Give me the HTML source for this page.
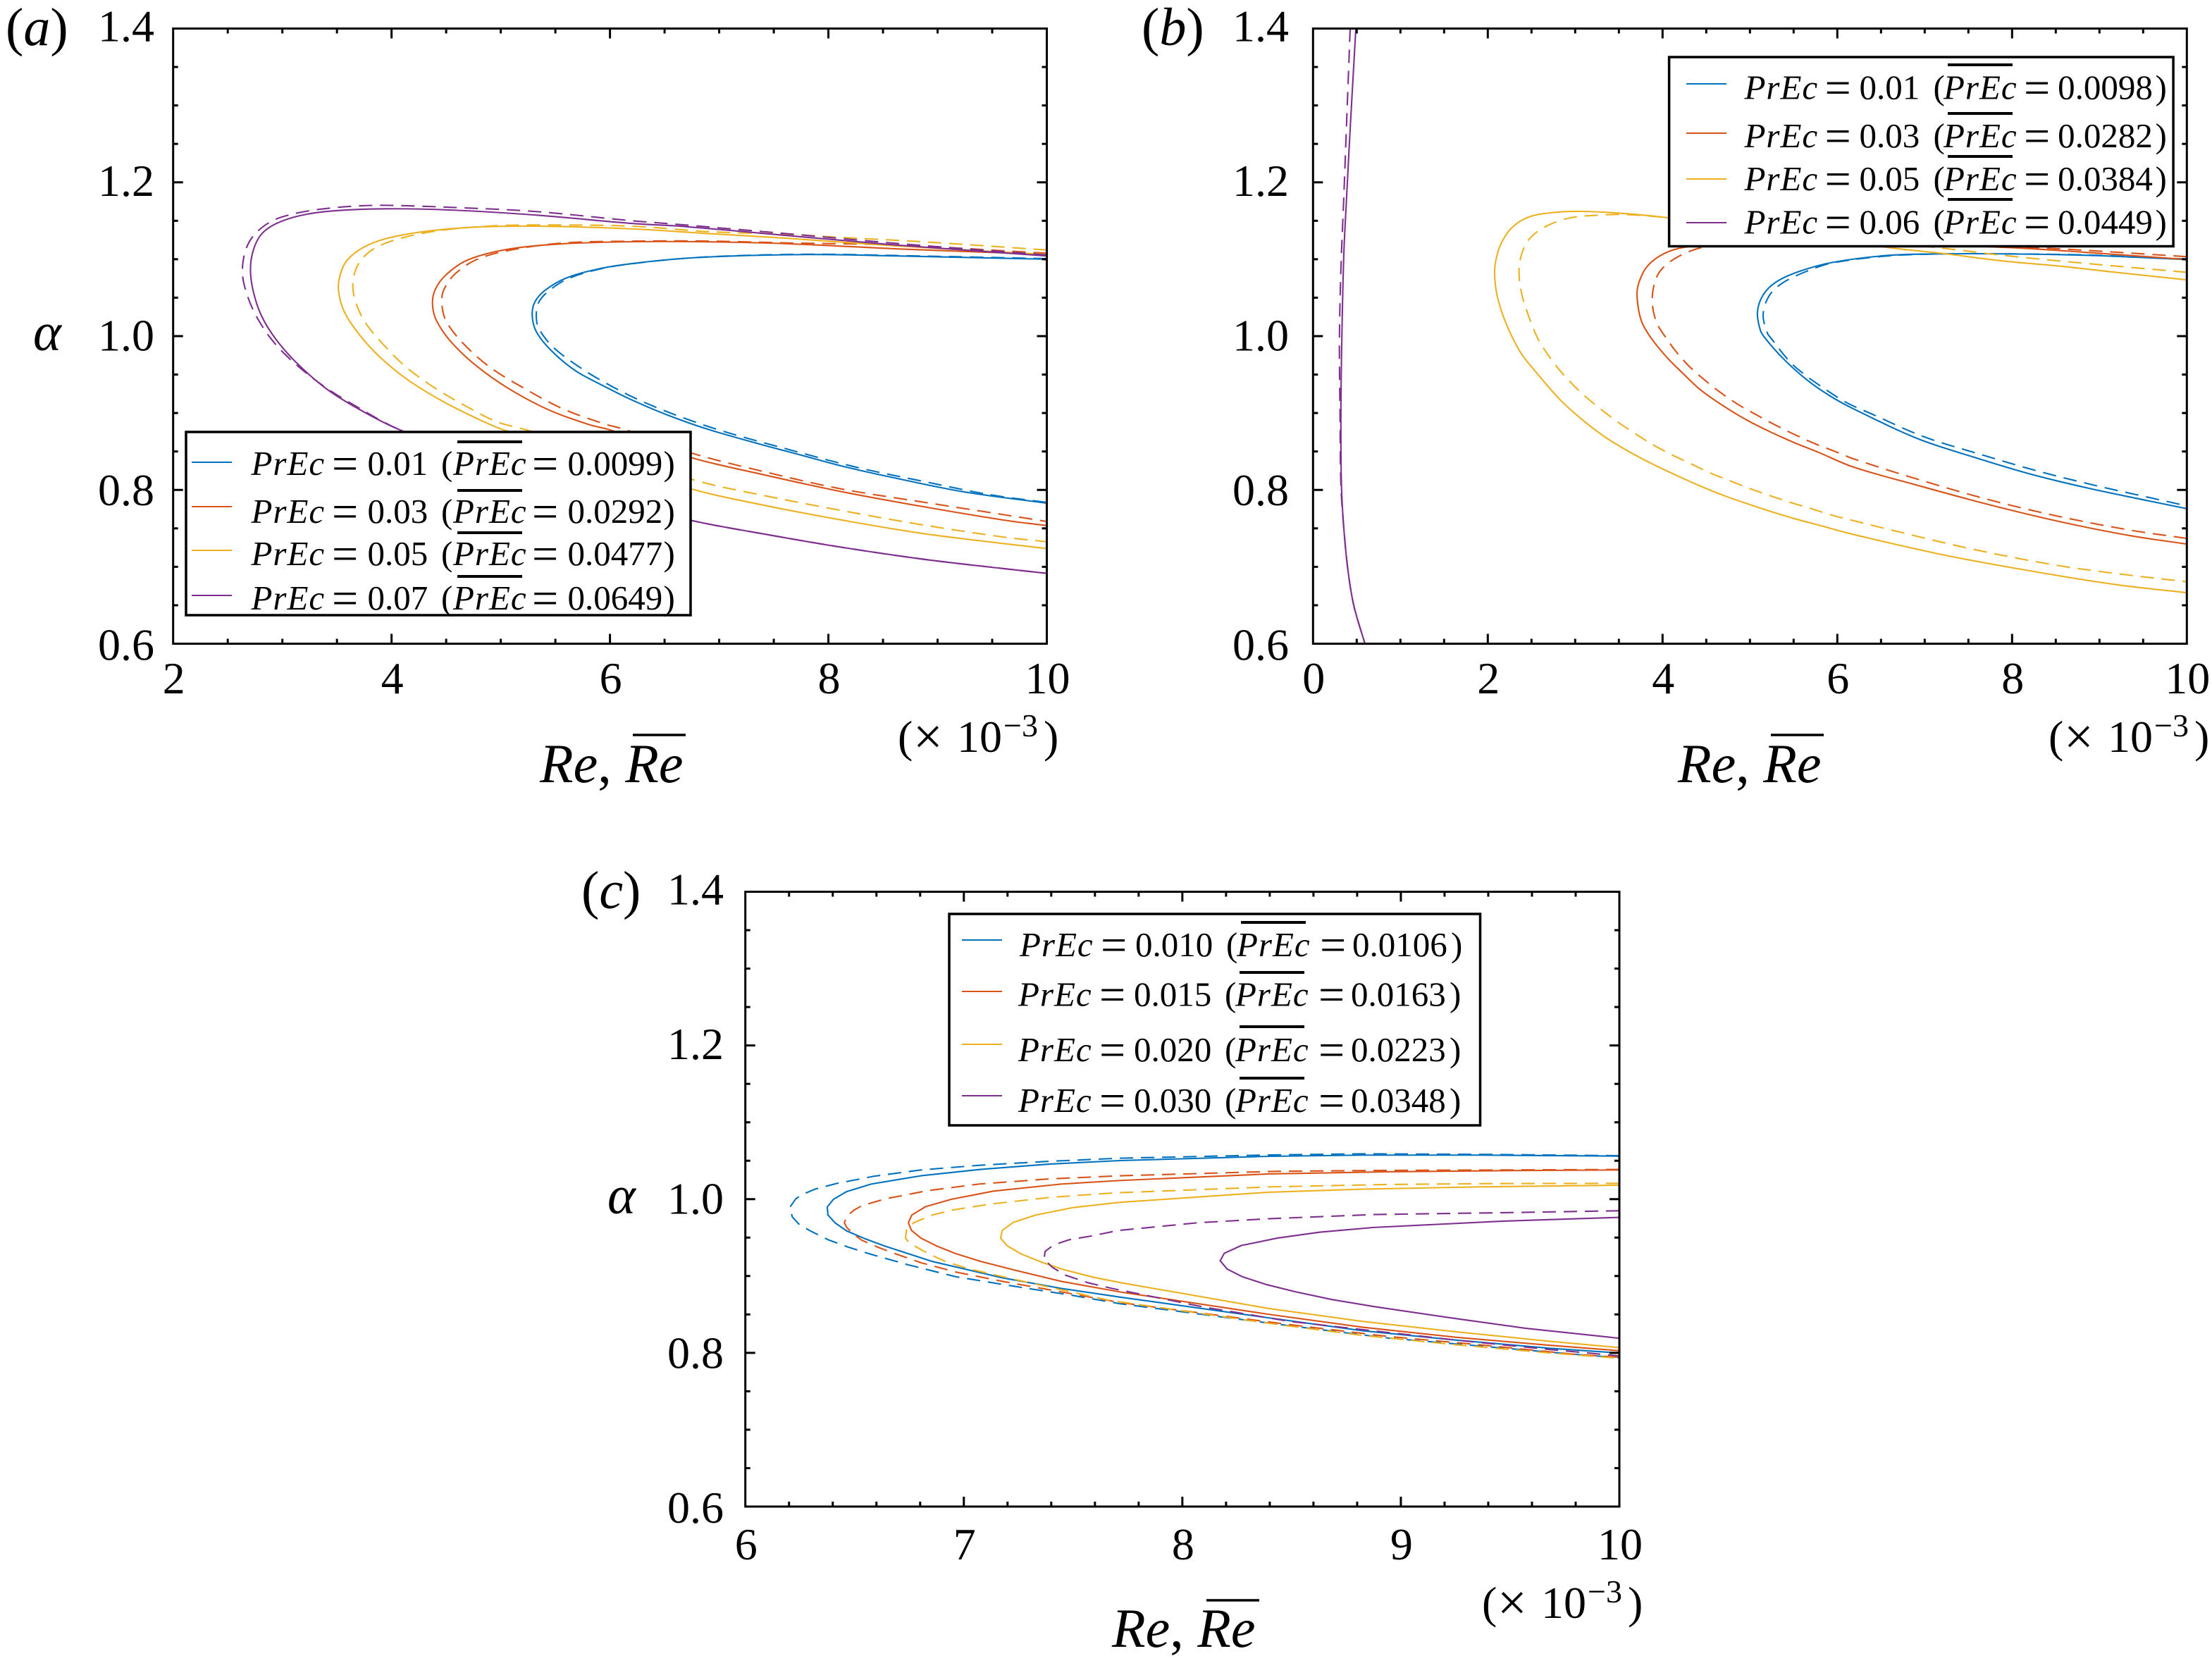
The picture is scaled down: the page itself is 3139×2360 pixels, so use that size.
<!DOCTYPE html>
<html lang="en">
<head>
<meta charset="utf-8">
<title>Neutral curves, panels a-c</title>
<style>
html,body{margin:0;padding:0;background:#fff;width:3139px;height:2360px;overflow:hidden}
svg{display:block}
text{font-family:"Liberation Serif",serif;fill:#000}
</style>
</head>
<body>
<svg id="fig" xmlns="http://www.w3.org/2000/svg" width="3139" height="2360" viewBox="0 0 3139 2360">
  <rect width="3139" height="2360" fill="#fff"/>
  <g id="panel-a"></g>
  <g id="panel-b"></g>
  <g id="panel-c"></g>
</svg>
<script>
// ---------- Data: each pair is [Re x 10^-3, alpha] ----------
const aBlueSolid=[[10,1.1],[8.626,1.1043],[7.885,1.1061],[7.145,1.1043],[6.651,1.1008],[6.222,1.0947],[5.93,1.0884],[5.609,1.0761],[5.412,1.0603],[5.313,1.0446],[5.288,1.027],[5.325,1.006],[5.461,0.9814],[5.683,0.9551],[5.93,0.936],[6.2,0.917],[6.527,0.8974],[6.898,0.8788],[7.392,0.8588],[7.762,0.8448],[8.132,0.8307],[8.626,0.815],[9.243,0.7974],[10,0.7827]];
const aBlueDash=[[10,1.1008],[8.626,1.1048],[7.885,1.1065],[7.145,1.1046],[6.651,1.1008],[6.222,1.0945],[5.93,1.088],[5.63,1.0755],[5.45,1.06],[5.35,1.0446],[5.325,1.027],[5.35,1.0095],[5.486,0.9849],[5.733,0.9585],[5.98,0.9375],[6.25,0.918],[6.6,0.8975],[7.021,0.877],[7.638,0.8525],[8.256,0.8295],[8.873,0.811],[9.491,0.7935],[10,0.7838]];
const aRedSolid=[[10,1.1061],[8.626,1.1135],[7.638,1.1201],[6.898,1.1226],[6.222,1.1228],[5.56,1.12],[5.066,1.113],[4.696,1.099],[4.498,1.0796],[4.399,1.0603],[4.375,1.0411],[4.412,1.02],[4.548,0.992],[4.77,0.9621],[5.066,0.9323],[5.436,0.9043],[5.807,0.885],[6.004,0.8779],[6.737,0.8423],[7.392,0.8202],[8.132,0.7974],[8.873,0.7781],[9.614,0.7606],[10,0.7536]];
const aRedDash=[[10,1.1078],[8.626,1.1184],[7.638,1.1212],[6.898,1.1236],[6.222,1.1235],[5.56,1.121],[5.066,1.1112],[4.77,1.099],[4.572,1.0796],[4.474,1.0586],[4.461,1.0411],[4.498,1.02],[4.646,0.992],[4.893,0.9604],[5.19,0.9341],[5.56,0.906],[5.93,0.8867],[6.152,0.8779],[6.737,0.8483],[7.441,0.8227],[8.132,0.8009],[8.873,0.784],[9.614,0.7676],[10,0.7589]];
const aYellowSolid=[[10,1.1061],[8.626,1.1173],[7.638,1.1271],[6.898,1.1334],[6.222,1.1393],[5.436,1.1428],[4.819,1.1421],[4.325,1.1365],[3.955,1.127],[3.733,1.1147],[3.585,1.0972],[3.523,1.0761],[3.515,1.0586],[3.56,1.034],[3.683,1.006],[3.881,0.9744],[4.152,0.9428],[4.474,0.9148],[4.77,0.8937],[5.029,0.8779],[5.9,0.841],[6.737,0.8016],[7.392,0.7806],[8.132,0.7606],[8.873,0.7431],[9.614,0.7301],[10,0.7238]];
const aYellowDash=[[10,1.112],[8.873,1.1226],[8.132,1.1282],[7.638,1.1324],[6.898,1.1359],[6.2,1.143],[5.436,1.1445],[4.943,1.1435],[4.449,1.1375],[4.078,1.127],[3.831,1.113],[3.696,1.0937],[3.646,1.0691],[3.671,1.0446],[3.757,1.0183],[3.906,0.992],[4.128,0.9604],[4.399,0.9323],[4.696,0.9078],[4.967,0.8885],[5.239,0.8779],[6.804,0.8115],[7.392,0.7932],[8.132,0.7729],[8.873,0.7543],[9.614,0.7385],[10,0.7326]];
const aPurpleSolid=[[10,1.1043],[8.626,1.1184],[7.638,1.1306],[6.65,1.1429],[6.222,1.1463],[5.313,1.1575],[4.572,1.1638],[3.955,1.1656],[3.461,1.1628],[3.165,1.1568],[2.943,1.1463],[2.807,1.1323],[2.733,1.1112],[2.708,1.0867],[2.733,1.0586],[2.807,1.027],[2.943,0.9955],[3.14,0.9639],[3.412,0.9306],[3.733,0.9025],[4.078,0.878],[5.3,0.812],[6.737,0.7606],[7.392,0.7431],[8.132,0.7252],[8.873,0.7098],[9.614,0.6975],[10,0.6915]];
const aPurpleDash=[[10,1.1055],[8.63,1.1205],[7.64,1.133],[6.65,1.145],[6.222,1.1498],[5.313,1.1621],[4.572,1.1673],[3.955,1.1701],[3.659,1.169],[3.338,1.1649],[3.091,1.1586],[2.906,1.1498],[2.757,1.134],[2.671,1.1147],[2.634,1.0867],[2.659,1.0621],[2.745,1.0305],[2.893,0.9972],[3.091,0.9674],[3.387,0.9341],[3.708,0.906],[4.054,0.8797],[5.3,0.812],[6.737,0.7606],[7.392,0.7431],[8.132,0.7252],[8.873,0.7098],[9.614,0.6975],[10,0.6915]];

const bBlueSolid=[[10,1.0996],[8.862,1.1051],[7.89,1.107],[7.241,1.107],[6.593,1.1051],[5.945,1.0959],[5.556,1.0838],[5.297,1.0702],[5.151,1.0536],[5.086,1.0315],[5.119,1.0076],[5.175,0.9972],[5.377,0.9712],[5.645,0.9437],[5.914,0.9224],[6.183,0.9056],[6.917,0.8668],[7.565,0.8425],[8.213,0.8205],[8.862,0.8025],[9.51,0.787],[10,0.7756]];
const bBlueDash=[[10,1.1003],[8.862,1.1055],[7.89,1.107],[7.241,1.107],[6.593,1.1044],[5.945,1.0952],[5.621,1.083],[5.362,1.0683],[5.216,1.0517],[5.151,1.0278],[5.2,1.0039],[5.242,0.9972],[5.457,0.9667],[5.645,0.9483],[5.847,0.9321],[6.048,0.9172],[6.183,0.9092],[6.399,0.8985],[6.982,0.8695],[7.63,0.8465],[8.278,0.825],[8.926,0.8065],[9.574,0.79],[10,0.7793]];
const bRedSolid=[[10,1.0996],[8.862,1.1088],[7.987,1.1151],[6,1.123],[5,1.123],[4.285,1.1162],[4.022,1.1076],[3.824,1.0907],[3.726,1.0683],[3.709,1.0496],[3.758,1.0197],[3.871,0.9972],[4.059,0.9712],[4.221,0.9529],[4.436,0.93],[4.705,0.9086],[4.973,0.8903],[5.242,0.875],[5.511,0.8613],[5.78,0.8491],[6.183,0.8298],[6.917,0.806],[7.727,0.7811],[8.537,0.759],[9.347,0.7406],[10,0.7296]];
const bRedDash=[[10,1.1033],[8.862,1.1114],[7.987,1.1165],[6,1.124],[5,1.122],[4.483,1.1162],[4.186,1.1038],[3.989,1.087],[3.907,1.0683],[3.883,1.0421],[3.939,1.0159],[4.059,0.9948],[4.14,0.9819],[4.301,0.9612],[4.489,0.9422],[4.678,0.9254],[4.879,0.9101],[5.094,0.8964],[5.309,0.8833],[5.524,0.8713],[5.753,0.8597],[5.981,0.8497],[6.183,0.8405],[6.917,0.814],[7.727,0.7875],[8.537,0.7655],[9.347,0.7478],[10,0.7369]];
const bYellowSolid=[[10,1.0731],[9.185,1.083],[8.537,1.0911],[7.89,1.0978],[7.241,1.107],[6.593,1.1151],[5.3,1.135],[4.088,1.1536],[3.594,1.1592],[3.1,1.1622],[2.771,1.161],[2.475,1.1551],[2.277,1.1412],[2.146,1.1188],[2.086,1.0945],[2.08,1.0758],[2.113,1.0496],[2.211,1.0159],[2.376,0.9785],[2.554,0.9529],[2.823,0.9178],[3.092,0.8903],[3.36,0.8674],[3.629,0.849],[3.898,0.8329],[4.167,0.8185],[4.436,0.8048],[4.705,0.7925],[4.973,0.7819],[5.242,0.7718],[5.511,0.7626],[5.78,0.7544],[6.183,0.7421],[7.241,0.7149],[8.213,0.6946],[9.185,0.6769],[10,0.6663]];
const bYellowDash=[[10,1.083],[9.185,1.0911],[8.537,1.0978],[7.89,1.1051],[7.209,1.1143],[5.3,1.137],[4.088,1.1536],[3.594,1.158],[3.265,1.1573],[2.935,1.1536],[2.672,1.1431],[2.475,1.1263],[2.376,1.102],[2.36,1.0758],[2.409,1.0459],[2.541,1.0047],[2.608,0.9896],[2.756,0.9651],[2.917,0.9437],[3.092,0.9239],[3.28,0.9062],[3.481,0.8888],[3.683,0.8735],[3.885,0.8591],[4.1,0.846],[4.328,0.8338],[4.543,0.8222],[4.772,0.8118],[5,0.8017],[5.229,0.7925],[5.457,0.784],[5.699,0.7757],[5.928,0.7675],[6.17,0.7605],[6.593,0.7485],[7.565,0.7225],[8.537,0.7015],[9.347,0.6891],[10,0.6806]];
const bPurpleSolid=[[0.49,1.4],[0.43,1.28],[0.384,1.1805],[0.352,1.1057],[0.329,0.9935],[0.319,0.9],[0.325,0.8065],[0.352,0.7504],[0.401,0.6943],[0.467,0.6494],[0.592,0.6007]];
const bPurpleDash=[[0.425,1.4],[0.385,1.28],[0.352,1.1805],[0.319,1.087],[0.302,0.9935],[0.309,0.9],[0.319,0.8065],[0.352,0.7504],[0.401,0.6943],[0.467,0.6494],[0.592,0.6007]];

const cBlueSolid=[[10,1.056],[9.361,1.0573],[8.824,1.0573],[8.394,1.0557],[7.716,1.0502],[7.394,1.0457],[7.071,1.0386],[6.803,1.0304],[6.577,1.0197],[6.464,1.0099],[6.403,0.9998],[6.375,0.9898],[6.378,0.9794],[6.41,0.9693],[6.464,0.9586],[6.545,0.9488],[6.641,0.9387],[6.856,0.9189],[7.179,0.8975],[7.448,0.8838],[7.716,0.8725],[8.394,0.8456],[8.824,0.8288],[9.254,0.8166],[9.684,0.8059],[10,0.7998]];
const cBlueDash=[[10,1.0566],[9.361,1.0583],[8.824,1.059],[8.394,1.0575],[7.716,1.0533],[7.394,1.0493],[7.071,1.0441],[6.803,1.038],[6.588,1.0298],[6.416,1.0203],[6.319,1.013],[6.265,1.0066],[6.231,1.0005],[6.203,0.9891],[6.215,0.9769],[6.244,0.9678],[6.292,0.9595],[6.378,0.9473],[6.469,0.9378],[6.566,0.929],[6.749,0.9143],[6.964,0.899],[7.227,0.8868],[7.501,0.8746],[7.716,0.8639],[8.501,0.8349],[8.931,0.8196],[9.361,0.8089],[9.791,0.7982],[10,0.7937]];
const cRedSolid=[[10,1.038],[9.469,1.0371],[8.931,1.0356],[8.394,1.0328],[7.716,1.0243],[7.448,1.0197],[7.136,1.0105],[6.942,0.9998],[6.824,0.9901],[6.762,0.9794],[6.746,0.9693],[6.76,0.9595],[6.803,0.9494],[6.873,0.9394],[6.964,0.929],[7.071,0.9195],[7.233,0.9076],[7.448,0.8929],[7.716,0.8792],[8.394,0.8502],[8.824,0.8334],[9.254,0.8202],[9.684,0.8098],[10,0.8028]];
const cRedDash=[[10,1.0386],[9.469,1.038],[8.931,1.0374],[8.426,1.0362],[7.716,1.0304],[7.394,1.0264],[7.071,1.0197],[6.835,1.0111],[6.641,1.0004],[6.534,0.9916],[6.496,0.9855],[6.464,0.9775],[6.453,0.9693],[6.464,0.9632],[6.493,0.9549],[6.534,0.9464],[6.609,0.9372],[6.695,0.9281],[6.803,0.9174],[6.964,0.9051],[7.179,0.8929],[7.448,0.8792],[7.716,0.8654],[8.501,0.8364],[8.931,0.8217],[9.361,0.8105],[9.791,0.7982],[10,0.7943]];
const cYellowSolid=[[10,1.0182],[9.361,1.016],[8.824,1.013],[8.394,1.009],[7.716,0.9959],[7.501,0.9891],[7.329,0.9794],[7.227,0.9699],[7.176,0.9595],[7.168,0.9494],[7.198,0.9394],[7.26,0.929],[7.362,0.9174],[7.458,0.9082],[7.593,0.8984],[7.716,0.8914],[8.394,0.8578],[8.824,0.841],[9.254,0.8273],[9.684,0.815],[10,0.8068]];
const cYellowDash=[[10,1.0206],[9.469,1.0203],[8.931,1.0191],[8.407,1.016],[7.684,1.0081],[7.394,1.0023],[7.125,0.9937],[6.953,0.9861],[6.856,0.9794],[6.77,0.9693],[6.738,0.961],[6.733,0.9494],[6.749,0.9433],[6.824,0.9311],[6.91,0.9195],[7.018,0.9097],[7.179,0.899],[7.394,0.8853],[7.663,0.8685],[8.448,0.8364],[8.824,0.8227],[9.254,0.8105],[9.684,0.7998],[10,0.793]];
const cPurpleSolid=[[10,0.9763],[9.469,0.9714],[8.877,0.9632],[8.63,0.9571],[8.436,0.9494],[8.27,0.9397],[8.192,0.9296],[8.173,0.9198],[8.205,0.9091],[8.275,0.899],[8.383,0.889],[8.522,0.8792],[8.684,0.8694],[8.877,0.8602],[9.254,0.8445],[9.576,0.8318],[10,0.819]];
const cPurpleDash=[[10,0.9849],[9.469,0.9824],[8.877,0.98],[8.393,0.9745],[8.071,0.9693],[7.706,0.9592],[7.582,0.952],[7.48,0.947],[7.41,0.9403],[7.372,0.932],[7.367,0.922],[7.405,0.9113],[7.464,0.9012],[7.566,0.8914],[7.679,0.8838],[8.103,0.8593],[8.254,0.8523],[8.49,0.841],[8.823,0.8303],[9.254,0.8166],[9.684,0.8043],[10,0.7961]];

// ---------- Tick labels ----------
const yTickLabels=["1.4","1.2","1.0","0.8","0.6"];
const yTickValues=[1.4,1.2,1.0,0.8,0.6];
const xTicksA=[2,4,6,8,10];
const xTicksB=[0,2,4,6,8,10];
const xTicksC=[6,7,8,9,10];

// ---------- Legend text ----------
const legendPrEcA=["0.01","0.03","0.05","0.07"];
const legendBarA=["0.0099","0.0292","0.0477","0.0649"];
const legendPrEcB=["0.01","0.03","0.05","0.06"];
const legendBarB=["0.0098","0.0282","0.0384","0.0449"];
const legendPrEcC=["0.010","0.015","0.020","0.030"];
const legendBarC=["0.0106","0.0163","0.0223","0.0348"];

// ---------- Styling ----------
const COLORS=["#0072bd","#d95319","#edb120","#7e2f8e"];
const COLOR_NAMES=["blue","red","yellow","purple"];
const NS="http://www.w3.org/2000/svg";

function mk(tag,attrs,parent){
  const el=document.createElementNS(NS,tag);
  for(const k in attrs){el.setAttribute(k,attrs[k]);}
  if(parent){parent.appendChild(el);}
  return el;
}

function smoothPath(pts,smooth){
  let d="M"+pts[0][0].toFixed(2)+" "+pts[0][1].toFixed(2);
  const dist=(a,b)=>Math.hypot(b[0]-a[0],b[1]-a[1])||1;
  const tangent=i=>{
    const a=pts[Math.max(i-1,0)],b=pts[Math.min(i+1,pts.length-1)];
    const s=dist(a,b);
    return [(b[0]-a[0])/s,(b[1]-a[1])/s];
  };
  for(let i=0;i<pts.length-1;i++){
    const p1=pts[i],p2=pts[i+1];
    if(smooth){
      const len=dist(p1,p2)/3;
      const t1=tangent(i),t2=tangent(i+1);
      const c1x=p1[0]+t1[0]*len,c1y=p1[1]+t1[1]*len;
      const c2x=p2[0]-t2[0]*len,c2y=p2[1]-t2[1]*len;
      d+="C"+c1x.toFixed(2)+" "+c1y.toFixed(2)+" "+c2x.toFixed(2)+" "+c2y.toFixed(2)+" "+p2[0].toFixed(2)+" "+p2[1].toFixed(2);
    }else{
      d+="L"+p2[0].toFixed(2)+" "+p2[1].toFixed(2);
    }
  }
  return d;
}

function drawPanel(cfg){
  const g=document.getElementById(cfg.id);
  const sx=v=>cfg.L+(v-cfg.xMin)/(cfg.xMax-cfg.xMin)*(cfg.R-cfg.L);
  const sy=v=>cfg.B-(v-0.6)/(1.4-0.6)*(cfg.B-cfg.T);

  // clip
  const clip=mk("clipPath",{id:cfg.id+"-clip"},g);
  mk("rect",{x:cfg.L,y:cfg.T,width:cfg.R-cfg.L,height:cfg.B-cfg.T},clip);

  // curves
  const curves=mk("g",{"clip-path":"url(#"+cfg.id+"-clip)",fill:"none","stroke-width":2.1,"stroke-linejoin":"round"},g);
  
  
  cfg.series.forEach((pair,i)=>{
    const dashed=mk("path",{d:smoothPath(pair[1].map(p=>[sx(p[0]),sy(p[1])]),cfg.smooth),stroke:COLORS[i],"stroke-dasharray":"19 11"},curves);
    
    
    const solid=mk("path",{d:smoothPath(pair[0].map(p=>[sx(p[0]),sy(p[1])]),cfg.smooth),stroke:COLORS[i]},curves);
    
    
  });

  // minor + major ticks
  const ticks=mk("g",{stroke:"#000","stroke-width":3,fill:"none"},g);
  
  
  const nx=Math.round((cfg.xMax-cfg.xMin)/cfg.xMinor);
  for(let i=1;i<nx;i++){
    const v=cfg.xMin+i*cfg.xMinor;
    const major=cfg.xTicks.some(t=>Math.abs(t-v)<1e-6);
    const len=major?14:7;
    const x=sx(v);
    mk("line",{x1:x,x2:x,y1:cfg.B,y2:cfg.B-len},ticks);
    mk("line",{x1:x,x2:x,y1:cfg.T,y2:cfg.T+len},ticks);
  }
  for(let i=1;i<16;i++){
    const v=0.6+i*0.05;
    const major=i%4===0;
    const len=major?14:7;
    const y=sy(v);
    mk("line",{x1:cfg.L,x2:cfg.L+len,y1:y,y2:y},ticks);
    mk("line",{x1:cfg.R,x2:cfg.R-len,y1:y,y2:y},ticks);
  }

  // frame
  const frame=mk("rect",{x:cfg.L,y:cfg.T,width:cfg.R-cfg.L,height:cfg.B-cfg.T,fill:"none",stroke:"#000","stroke-width":3},g);
  
  

  // tick labels
  cfg.xTicks.forEach(v=>{
    const t=mk("text",{x:sx(v)+1,y:cfg.xTickY,"font-size":64,"text-anchor":"middle"},g);
    
    
    t.textContent=String(v);
  });
  yTickValues.forEach((v,k)=>{
    const t=mk("text",{x:cfg.yLabelRight,y:sy(v)+18+1.25*k,"font-size":64,"text-anchor":"end"},g);
    
    
    t.textContent=yTickLabels[k];
  });

  // panel tag
  const tag=mk("text",{x:cfg.tagX,y:cfg.tagY,"font-size":76},g);
  
  
  mk("tspan",{},tag).textContent="(";
  mk("tspan",{"font-style":"italic"},tag).textContent=cfg.tag;
  mk("tspan",{},tag).textContent=")";

  // alpha label
  if(cfg.alphaX!==null){
    const a=mk("text",{x:cfg.alphaX,y:cfg.alphaY,"font-size":76,"font-style":"italic"},g);
    
    
    a.textContent="\u03b1";
  }

  // x axis title
  const xt=mk("text",{x:cfg.titleX,y:cfg.titleY,"font-size":78},g);
  
  
  mk("tspan",{"font-style":"italic"},xt).textContent="Re";
  mk("tspan",{},xt).textContent=", ";
  mk("tspan",{"font-style":"italic"},xt).textContent="Re";
  const xb=mk("line",{x1:cfg.titleBarX,x2:cfg.titleBarX+75,y1:cfg.titleBarY,y2:cfg.titleBarY,stroke:"#000","stroke-width":3.5},g);
  
  

  // scale note
  const n=mk("text",{y:cfg.scaleY,"font-size":64},g);
  
  
  mk("tspan",{x:cfg.scaleX},n).textContent="(";
  mk("tspan",{x:cfg.scaleX+22,y:cfg.scaleY+3,"font-size":74},n).textContent="\u00d7";
  mk("tspan",{x:cfg.scaleX+84,y:cfg.scaleY},n).textContent="10";
  mk("tspan",{x:cfg.scaleX+150,y:cfg.scaleY-22,"font-size":46},n).textContent="\u22123";
  mk("tspan",{x:cfg.scaleX+207,y:cfg.scaleY},n).textContent=")";

  // legend
  const lg=cfg.legend;
  const box=mk("g",{},g);
  
  
  const br=mk("rect",{x:lg.x,y:lg.y,width:lg.w,height:lg.h,fill:"#fff",stroke:"#000","stroke-width":3.5},box);
  
  
  lg.rows.forEach((row,i)=>{
    const s=mk("line",{x1:lg.sampleX,x2:lg.sampleX+57,y1:row[0],y2:row[0],stroke:COLORS[i],"stroke-width":2.1},box);
    
    
    const x0=lg.textX+(i===0?lg.firstShift:0);
    const o=lg.off;
    const t=mk("text",{y:row[1],"font-size":49},box);
    
    
    mk("tspan",{x:x0,"font-style":"italic","letter-spacing":1},t).textContent="PrEc";
    mk("tspan",{x:x0+o[0]-2,y:row[1]+6,"font-size":66},t).textContent="=";
    mk("tspan",{x:x0+o[1],y:row[1]},t).textContent=cfg.legendPrEc[i];
    mk("tspan",{x:x0+o[2]},t).textContent="(";
    mk("tspan",{x:x0+o[3],"font-style":"italic","letter-spacing":1},t).textContent="PrEc";
    mk("tspan",{x:x0+o[4]-2,y:row[1]+6,"font-size":66},t).textContent="=";
    mk("tspan",{x:x0+o[5],y:row[1]},t).textContent=cfg.legendBar[i];
    mk("tspan",{x:x0+o[6]},t).textContent=")";
    const b=mk("line",{x1:x0+o[3]+6,x2:x0+o[3]+98,y1:row[2],y2:row[2],stroke:"#000","stroke-width":4},box);
    
    
  });
}

drawPanel({
  id:"panel-a",L:245.7,R:1485.5,T:40.5,B:913.5,xMin:2,xMax:10,xMinor:0.5,xTicks:xTicksA,smooth:true,
  series:[[aBlueSolid,aBlueDash],[aRedSolid,aRedDash],[aYellowSolid,aYellowDash],[aPurpleSolid,aPurpleDash]],
  xTickY:984,yLabelRight:219,tag:"a",tagX:8,tagY:64,alphaX:47,alphaY:497,
  titleX:766,titleY:1110,titleBarX:898,titleBarY:1043,scaleX:1274,scaleY:1067,
  legendPrEc:legendPrEcA,legendBar:legendBarA,
  legend:{x:264,y:613,w:716,h:260,sampleX:272,textX:356.5,firstShift:0,off:[116.5,165,269.5,286.5,400.5,449,585],
    rows:[[656,674,627],[719,742,696],[781,802,756],[845,865,818]]}
});
drawPanel({
  id:"panel-b",L:1863.3,R:3103.3,T:40.5,B:913.5,xMin:0,xMax:10,xMinor:0.5,xTicks:xTicksB,smooth:true,
  series:[[bBlueSolid,bBlueDash],[bRedSolid,bRedDash],[bYellowSolid,bYellowDash],[bPurpleSolid,bPurpleDash]],
  xTickY:984,yLabelRight:1829,tag:"b",tagX:1620,tagY:64,alphaX:null,alphaY:0,
  titleX:2381,titleY:1110,titleBarX:2513,titleBarY:1043,scaleX:2907,scaleY:1067,
  legendPrEc:legendPrEcB,legendBar:legendBarB,
  legend:{x:2368.6,y:81,w:715.5,h:268.5,sampleX:2393,textX:2475.5,firstShift:0,off:[116,163,268,282.5,398.5,444.6,583],
    rows:[[119,140.5,92],[189,209,161],[254,270,222],[316,331.5,283]]}
});
drawPanel({
  id:"panel-c",L:1057.7,R:2298,T:1265.5,B:2138,xMin:6,xMax:10,xMinor:0.2,xTicks:xTicksC,smooth:false,
  series:[[cBlueSolid,cBlueDash],[cRedSolid,cRedDash],[cYellowSolid,cYellowDash],[cPurpleSolid,cPurpleDash]],
  xTickY:2213,yLabelRight:1027,tag:"c",tagX:825,tagY:1289,alphaX:862,alphaY:1722,
  titleX:1578,titleY:2337,titleBarX:1712,titleBarY:2271,scaleX:2103,scaleY:2296,
  legendPrEc:legendPrEcC,legendBar:legendBarC,
  legend:{x:1347,y:1297,w:753.5,h:300,sampleX:1365,textX:1445,firstShift:2,off:[117,164,293,308,428,472,612],
    rows:[[1334,1357,1309],[1407,1427.6,1380],[1482,1506,1457],[1555,1578,1530]]}
});
</script>
</body>
</html>
